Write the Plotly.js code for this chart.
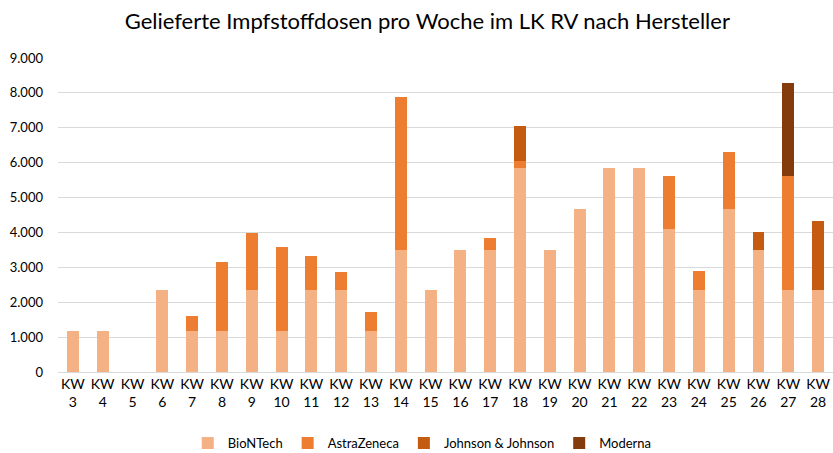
<!DOCTYPE html>
<html><head><meta charset="utf-8">
<script src="https://cdn.plot.ly/plotly-3.0.1.min.js"></script>
<style>html,body{margin:0;padding:0;background:#fff;overflow:hidden}</style>
</head><body>
<div id="chart" style="width:833px;height:453px"></div>
<script>
const weeks = ["3","4","5","6","7","8","9","10","11","12","13","14","15","16","17","18","19","20","21","22","23","24","25","26","27","28"];
const categories = weeks.map(w => "KW<br>" + w);
const biontech = [1170,1170,0,2340,1170,1170,2340,1170,2340,2340,1170,3510,2340,3510,3510,5850,3510,4680,5850,5850,4100,2340,4680,3510,2340,2340];
const astrazeneca = [0,0,0,0,430,1970,1640,2410,980,540,540,4380,0,0,320,210,0,0,0,0,1520,550,1630,0,3280,0];
const johnson = [0,0,0,0,0,0,0,0,0,0,0,0,0,0,0,1000,0,0,0,0,0,0,0,490,0,1990];
const moderna = [0,0,0,0,0,0,0,0,0,0,0,0,0,0,0,0,0,0,0,0,0,0,0,0,2650,0];
const seriesNames = ["BioNTech","AstraZeneca","Johnson & Johnson","Moderna"];
const colors = ["#F4B183","#ED7D31","#C55A11","#843C0C"];
const vals = [biontech, astrazeneca, johnson, moderna];
const font = "Lato, 'Open Sans', sans-serif";
const traces = vals.map((v,i) => ({
  type:"bar", name:seriesNames[i], x:categories, y:v,
  marker:{color:colors[i]}, hoverinfo:"y+name"
}));
Plotly.newPlot("chart", traces, {
  width:833, height:453,
  barmode:"stack", bargap:0.6,
  margin:{l:58,r:0,t:58,b:81},
  paper_bgcolor:"#fff", plot_bgcolor:"#fff",
  separators:",.",
  font:{family:font, size:13, color:"#000"},
  title:{text:"Gelieferte Impfstoffdosen pro Woche im LK RV nach Hersteller", font:{size:22, family:font, color:"#000"}, x:0.513, xanchor:"center", y:0.952, yanchor:"middle"},
  xaxis:{type:"category", showgrid:false, showline:false, ticks:"", tickfont:{size:14}, tickangle:0, ticklabelstandoff:2, fixedrange:true, automargin:false},
  yaxis:{range:[0,9000], dtick:1000, tickformat:",d", gridcolor:"#D9D9D9", gridwidth:1, zeroline:true, zerolinecolor:"#D9D9D9", zerolinewidth:1, showline:false, ticks:"", tickfont:{size:13}, ticklabelstandoff:14, fixedrange:true, automargin:false},
  legend:{orientation:"h", x:0.47, xanchor:"center", yref:"container", y:0.022, yanchor:"middle", font:{size:13}, itemwidth:30, traceorder:"normal"},
  showlegend:true
}, {displayModeBar:false, staticPlot:true});
</script>
</body></html>
